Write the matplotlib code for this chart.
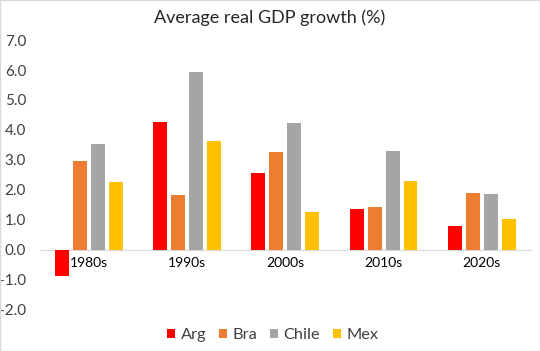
import numpy as np
import matplotlib.pyplot as plt
from matplotlib.patches import Rectangle

plt.rcParams["font.family"] = ["Lato", "DejaVu Sans"]

decades = ["1980s", "1990s", "2000s", "2010s", "2020s"]
arg = [-0.87, 4.26, 2.57, 1.37, 0.80]
bra = [2.96, 1.84, 3.27, 1.42, 1.89]
chile = [3.54, 5.93, 4.22, 3.31, 1.86]
mex = [2.25, 3.62, 1.25, 2.31, 1.04]

series = [("Arg", arg, "#FF0000"), ("Bra", bra, "#ED7D31"),
          ("Chile", chile, "#A5A5A5"), ("Mex", mex, "#FFC000")]

fig = plt.figure(figsize=(5.4, 3.51), dpi=100)
ax = fig.add_axes([0.074, 0.117, 0.909, 0.769])

x = np.arange(len(decades))
pitch = 0.183
width = 0.142
for i, (name, vals, col) in enumerate(series):
    ax.bar(x + (i - 1.5) * pitch, vals, width, color=col, label=name, zorder=3)

ax.set_xlim(-0.5, len(decades) - 0.5)
ax.set_ylim(-2.0, 7.0)
ax.set_yticks(np.arange(-2, 8, 1))
ax.set_yticklabels([f"{v:.1f}" for v in np.arange(-2, 8, 1)], fontsize=11, color="#404040")
ax.set_xticks(x)
ax.set_xticklabels(decades, fontsize=11.8, color="#404040")

for s in ["top", "right", "left"]:
    ax.spines[s].set_visible(False)
ax.spines["bottom"].set_position(("data", 0))
ax.spines["bottom"].set_color("#d9d9d9")
ax.spines["bottom"].set_zorder(2)
ax.tick_params(axis="both", length=0)
ax.tick_params(axis="x", pad=5)
ax.tick_params(axis="y", pad=10)

fig.text(0.5, 0.95, "Average real GDP growth (%)", ha="center", va="center",
         fontsize=13, color="#262626")
fig.legend(loc="center", bbox_to_anchor=(0.505, 0.045), ncol=4, frameon=False,
           fontsize=11.8, handlelength=0.5, handleheight=0.5, handletextpad=0.35,
           columnspacing=0.75, labelcolor="#404040")

fig.patches.append(Rectangle((0, 0), 1, 1, transform=fig.transFigure, fill=False,
                             edgecolor="#d9d9d9", linewidth=1))

fig.savefig("out.png", dpi=100, facecolor="white")
